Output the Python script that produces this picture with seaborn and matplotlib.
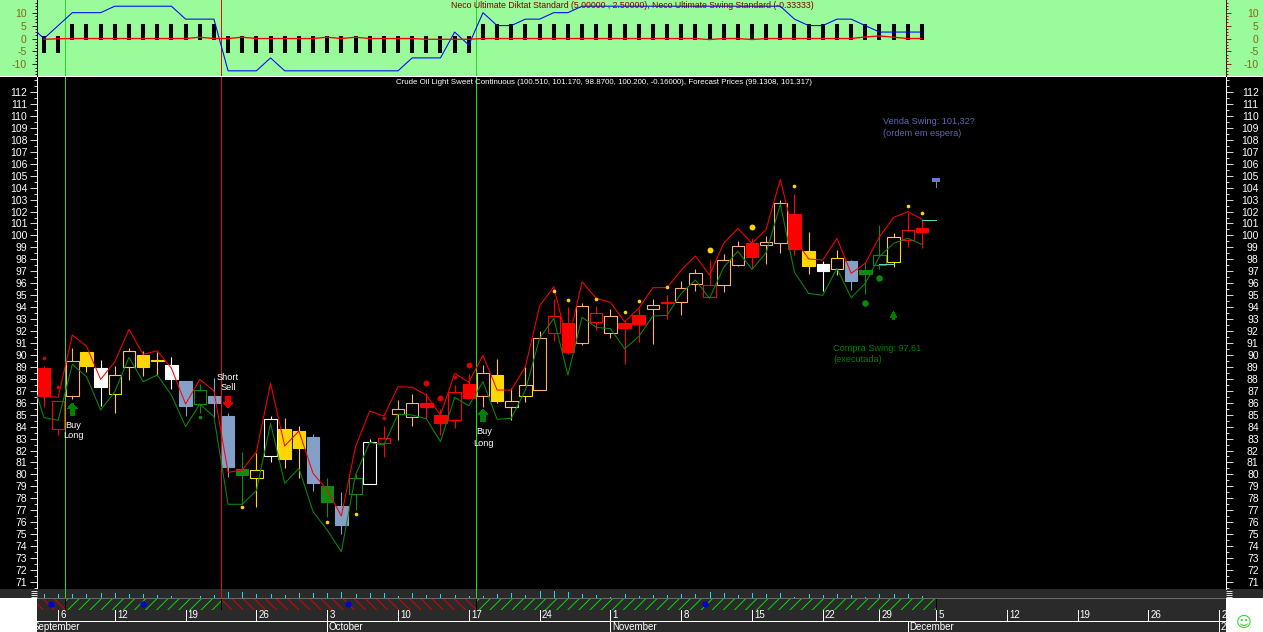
import numpy as np
import pandas as pd
import matplotlib
matplotlib.use('Agg')
import matplotlib.pyplot as plt
from matplotlib.patches import Rectangle
from matplotlib.ticker import MultipleLocator
import seaborn as sns

# candle data, one entry per session
opens_top = [88.93, 86.14, 89.46, 90.24, 88.90, 88.29, 90.30, 90.00, 89.55, 89.15, 87.82, 87.04, 86.56,
             84.89, 80.45, 80.34, 84.61, 83.80, 83.63, 83.13, 79.03, 77.36, 79.72, 82.68, 83.02, 85.44,
             85.95, 85.97, 84.97, 86.87, 87.56, 88.46, 88.32, 86.12, 87.45, 91.39, 93.23, 92.67, 94.10,
             93.48, 93.23, 92.67, 93.34, 94.15, 94.43, 95.63, 96.88, 95.82, 97.94, 99.09, 99.34, 99.42,
             102.69, 101.79, 98.69, 97.61, 98.08, 97.86, 97.10, 98.33, 99.84, 100.43, 100.59]
body_low = [86.56, 83.77, 86.56, 89.07, 87.31, 86.75, 89.02, 89.02, 89.45, 87.98, 85.72, 85.92, 86.00,
            80.65, 79.95, 79.72, 81.57, 81.29, 82.24, 79.28, 77.69, 75.77, 78.39, 79.22, 82.65, 85.03,
            84.83, 85.64, 84.30, 84.58, 86.42, 86.59, 86.14, 85.67, 86.59, 87.09, 91.81, 90.27, 91.02,
            92.78, 91.81, 92.28, 92.59, 93.87, 94.32, 94.45, 95.91, 94.82, 95.88, 97.55, 98.19, 99.17,
            99.39, 98.86, 97.44, 97.02, 97.21, 96.18, 96.77, 97.55, 97.80, 99.59, 100.31]
highs = [89.07, 86.14, 90.55, 90.24, 89.57, 89.07, 90.55, 90.33, 90.27, 89.82, 87.82, 87.56, 88.04,
         85.16, 81.87, 81.76, 84.89, 84.70, 84.05, 83.41, 79.70, 78.53, 80.03, 82.96, 84.05, 86.23,
         86.73, 86.79, 85.44, 87.48, 88.38, 89.15, 89.66, 87.20, 89.02, 92.00, 94.65, 94.03, 94.37,
         94.12, 93.82, 92.92, 93.90, 94.65, 95.01, 96.18, 97.19, 97.94, 98.44, 99.53, 99.76, 99.95,
         102.96, 103.46, 100.28, 97.86, 98.78, 97.94, 97.75, 100.87, 100.18, 101.85, 101.35]
lows = [85.64, 83.30, 86.31, 88.57, 85.72, 85.16, 87.90, 88.23, 88.32, 87.15, 84.89, 85.14, 84.83,
        79.81, 77.50, 77.30, 81.07, 80.54, 79.72, 78.64, 76.46, 75.01, 77.02, 79.22, 81.48, 82.88,
        84.05, 84.61, 83.30, 83.91, 86.42, 85.67, 85.95, 84.55, 86.06, 87.09, 91.16, 90.08, 90.83,
        92.08, 91.39, 89.24, 91.10, 90.91, 93.00, 93.34, 95.37, 94.82, 95.29, 97.44, 97.25, 97.61,
        98.55, 98.36, 96.77, 95.35, 96.69, 95.43, 95.10, 97.19, 97.38, 99.03, 98.95]
kinds = list('RroYWyyYyWBgBBGywYYBGBgwrooRRrRoYyyorRoroRRoRoorooRooRYWyBGgyrR')

upper_band = [86.56, 86.45, 91.67, 90.74, 87.95, 89.43, 92.14, 90.05, 90.35, 88.88, 85.89, 87.95, 87.00,
              80.17, 80.37, 81.90, 87.62, 82.38, 83.63, 80.09, 78.69, 76.52, 82.32, 85.31, 84.89, 87.34,
              87.29, 86.64, 84.97, 88.46, 87.71, 89.96, 87.06, 87.06, 89.02, 94.10, 95.71, 90.90, 96.13,
              94.73, 94.40, 92.78, 93.90, 95.63, 95.63, 97.10, 98.28, 96.69, 99.34, 100.59, 99.34, 100.51,
              104.69, 99.76, 98.03, 97.94, 99.76, 96.83, 97.66, 99.89, 101.51, 101.99, 101.37]
lower_band = [88.50, 84.75, 84.53, 89.21, 88.18, 85.39, 86.92, 89.80, 87.76, 88.32, 86.64, 84.00, 85.89, 84.83,
              77.50, 77.50, 78.64, 84.27, 79.25, 80.51, 76.88, 75.35, 73.53, 79.95, 82.68, 82.46, 85.03,
              84.97, 84.66, 82.74, 86.45, 85.75, 87.76, 84.61, 84.69, 87.06, 91.39, 93.06, 88.32, 93.15,
              92.31, 92.20, 90.52, 91.53, 93.26, 93.31, 95.15, 96.27, 94.73, 97.33, 98.67, 97.16, 98.55,
              102.60, 96.91, 95.15, 94.99, 97.25, 94.79, 95.99, 98.22, 99.34, 99.76, 99.25]

# dots above and below the candles
gold_idx = [14, 20, 22, 36, 37, 39, 41, 42, 44, 53, 61, 62]
gold_price = [77.25, 76.00, 76.66, 95.32, 94.57, 94.65, 93.56, 94.48, 95.65, 104.11, 102.43, 101.85]
gold_big_idx = [47, 50]
gold_big_price = [98.80, 100.67]
red_idx = [0, 1, 24, 29]
red_price = [89.71, 87.29, 84.69, 88.12]
red_big_idx = [27, 28, 30]
red_big_price = [87.62, 86.36, 89.13]
green_idx = [11]
green_price = [84.78]
green_big_idx = [58, 59]
green_big_price = [94.32, 96.41]

# oscillator panel
diktat = [-5.5, -5.5] + [5.5] * 11 + [-5.5] * 18 + [5.5] * 32
swing = [5, 0, 5, 10, 10, 10, 12.5, 12.5, 12.5, 12.5, 12.5, 7.5, 7.5, 7.5, -12.5, -12.5, -12.5, -7.5,
         -12.5, -12.5, -12.5, -12.5, -12.5, -12.5, -12.5, -12.5, -12.5, -7.5, -7.5, -7.5, 2.5, -2.5, 10,
         5, 5, 7.5, 7.5, 10, 10, 12.5, 12.5, 12.5, 12.5, 12.5, 12.5, 12.5, 12.5, 12.5, 12.5, 12.5, 12.5,
         12.5, 12.5, 12.5, 7.5, 5, 5, 7.5, 7.5, 5, 2.5, 2.5, 2.5, 2.5]
diktat_line = [-0.3, -0.1, 0, 0, 0, 0, 0, 0, 0, 0, 0, 0.5, 0, 0, 0.5, 0, 0, 0, 0, 0, 0.5, 0, 0.5, 0, 0, 0,
               0, -0.3, -0.3, -0.3, -0.3, 0, 0, 0, 0, 0, 0, 0, 0, 0, 0, 0, 0, 0, 0, 0, 0, -0.4, 0, 0, -0.4,
               0, 0, 0, 0, 0, 0, 0, 0.6, 1.0, 0.5, 0, 0]
volume = [4, 4, 4, 4, 4.7, 4.7, 4, 4, 3, 1.7, 0, 1.7, 3, 6, 6, 4, 4, 3, 4.7, 4.7, 4.7, 6, 4, 4.7, 4.7, 1.7,
          4.7, 3, 4, 3, 1.7, 2, 4, 5, 3, 7, 7, 6, 4, 3, 1, 4, 2, 3, 3, 4, 4, 6, 5, 3, 5, 4, 5, 1, 4, 3, 4,
          3, 1, 4, 4, 4, 2]

signal_idx = [1.5, 12.5, 30.5]
signal_color = ['#2fd62f', '#e01010', '#2fd62f']
regime_edges = [-0.5, 1.5, 12.5, 30.5, 63]
regime_color = ['#e00000', '#00e000', '#e00000', '#00e000']
event_idx = [0.5, 7, 21.5, 46.7]

date_idx = [1, 5, 10, 15, 20, 25, 30, 35, 40, 45, 50, 55, 59, 63, 68, 73, 78, 83]
date_labels = ['6', '12', '19', '26', '3', '10', '17', '24', '1', '8', '15', '22', '29', '5', '12', '19', '26', '2']
month_idx = [-0.9, 20, 40, 61, 83]
month_labels = ['September', 'October', 'November', 'December', '2']
month_ticks = [20, 40, 61, 83]

PX_W, PX_H = 1263, 632
X0, X1 = 37, 1226
BAR0, BAR_STEP = 44, 14.16
THIN = 0.6

sns.set_style('white')
plt.rcParams['font.family'] = ['Liberation Sans', 'DejaVu Sans']
plt.rcParams['axes.unicode_minus'] = False
plt.rcParams['lines.antialiased'] = False
plt.rcParams['patch.antialiased'] = False
plt.rcParams['hatch.linewidth'] = 0.7

fig = plt.figure(figsize=(PX_W / 100, PX_H / 100), dpi=100, facecolor='white')


def band(top, bottom, color):
    fig.patches.append(Rectangle((0, 1 - bottom / PX_H), 1, (bottom - top) / PX_H, zorder=-5,
                                 transform=fig.transFigure, facecolor=color, edgecolor='none'))


def panel(top, bottom, color):
    ax = fig.add_axes([X0 / PX_W, 1 - bottom / PX_H, (X1 - X0) / PX_W, (bottom - top) / PX_H], facecolor=color)
    ax.set_xlim((X0 - BAR0) / BAR_STEP, (X1 - BAR0) / BAR_STEP)
    ax.set_xticks([])
    ax.set_yticks([])
    for s in ax.spines.values():
        s.set_visible(False)
    return ax


def side_axis(ax, ticks, minor, left_col, right_col, label_col, left_pad, right_pad, tick_len):
    ax.set_yticks(ticks)
    ax.yaxis.set_minor_locator(MultipleLocator(minor))
    ax.tick_params(which='major', left=True, color=left_col, length=tick_len, width=THIN,
                   labelsize=7.5, labelcolor=label_col, pad=left_pad)
    ax.tick_params(which='minor', left=True, color=left_col, length=tick_len / 2, width=THIN)
    ax.spines['left'].set_visible(True)
    ax.spines['left'].set_color(left_col)
    ax.spines['left'].set_linewidth(THIN)
    right = ax.secondary_yaxis('right')
    right.set_yticks(ticks)
    right.yaxis.set_minor_locator(MultipleLocator(minor))
    right.tick_params(which='major', color=right_col, length=tick_len, width=THIN,
                      labelsize=7.5, labelcolor=label_col, pad=right_pad)
    right.tick_params(which='minor', color=right_col, length=tick_len / 2, width=THIN)
    right.spines['right'].set_color(right_col)
    right.spines['right'].set_linewidth(THIN)
    plt.setp(right.get_yticklabels(), ha='right')


band(0, 76, '#99fb99')
band(77, 589, 'black')
band(589, 598, '#2a2a2a')

ax_osc = panel(0, 76, '#99fb99')
ax_price = panel(77, 589, 'black')
ax_vol = panel(589, 598, '#2a2a2a')
ax_sig = panel(598, 610, '#2a2a2a')
ax_date = panel(610, 621, '#2a2a2a')
ax_month = panel(621, 632, '#2a2a2a')

# oscillator panel
idx = np.arange(len(opens_top))
ax_osc.set_ylim(-14.5, 14.9)
ax_osc.vlines(idx, [-0.6 if d > 0 else 1 for d in diktat], diktat, color='black', lw=2.9, antialiased=True, zorder=2)
sns.lineplot(x=np.arange(-1, len(swing) - 1), y=swing, ax=ax_osc, color='#0000ff', lw=0.75, antialiased=True,
             estimator=None, zorder=3)
sns.lineplot(x=idx, y=diktat_line, ax=ax_osc, color='#ff0000', lw=0.95, antialiased=True, estimator=None, zorder=4)
side_axis(ax_osc, [-10, -5, 0, 5, 10], 1.25, 'black', '#800000', '#7f6a10', 4, 20, 3.5)
ax_osc.text(632 / PX_W, 1 - 6 / PX_H, 'Neco Ultimate Diktat Standard (5.00000 , 2.50000), Neco Ultimate Swing Standard (-0.33333)',
            transform=fig.transFigure, ha='center', va='center', color='#800000', fontsize=6.3, zorder=6)

# price panel
ax_price.set_ylim(70.41, 113.26)
side_axis(ax_price, np.arange(71, 113), 0.5, 'white', 'white', 'white', 2, 18.5, 5)

for x, c in zip(signal_idx, signal_color):
    ax_price.axvline(x, color=c, lw=THIN, zorder=1)
    ax_osc.axvline(x, color=c, lw=THIN, zorder=1)
    ax_vol.axvline(x, color=c, lw=THIN, zorder=1)

palette = {'r': '#ff0000', 'o': '#ffb070', 'y': '#ffd700', 'w': '#ffffff', 'g': '#108a10', 'b': '#84a0c8'}
fills = {'R': 'r', 'Y': 'y', 'W': 'w', 'B': 'b', 'G': 'g'}
for i, k in enumerate(kinds):
    hollow = k.islower()
    col = palette[k if hollow else fills[k]]
    ax_price.vlines(i, lows[i], highs[i], color=col, lw=0.8, antialiased=True, zorder=2)
    ax_price.bar(i, opens_top[i] - body_low[i], bottom=body_low[i], width=0.88, antialiased=True,
                 facecolor='black' if hollow else col, edgecolor=col, lw=0.8, zorder=3)

sns.lineplot(x=idx, y=upper_band, ax=ax_price, color='#ff0000', lw=0.75, antialiased=True, estimator=None, zorder=5)
sns.lineplot(x=np.arange(-1, len(lower_band) - 1), y=lower_band, ax=ax_price, color='#0a8a0a', lw=0.75, antialiased=True,
             estimator=None, zorder=5)

for xs, ys, c, s in [(gold_idx, gold_price, '#ffd700', 7), (gold_big_idx, gold_big_price, '#ffd700', 18),
                     (red_idx, red_price, '#e00000', 7), (red_big_idx, red_big_price, '#e00000', 18),
                     (green_idx, green_price, '#0a8a0a', 7), (green_big_idx, green_big_price, '#0a8a0a', 22)]:
    sns.scatterplot(x=xs, y=ys, ax=ax_price, color=c, s=s, linewidth=0, zorder=6)

# entry and exit arrows
for x, y0, y1, c, w, hw in [(2, 84.97, 85.97, '#008000', 3, 7), (13, 86.56, 85.56, '#e00000', 3, 7),
                            (31, 84.40, 85.47, '#008000', 3, 7), (60, 93.00, 93.60, '#008000', 1.5, 4.5)]:
    ax_price.annotate('', xy=(x, y1), xytext=(x, y0), zorder=7,
                      arrowprops=dict(facecolor=c, edgecolor=c, width=w, headwidth=hw, headlength=4, shrink=0, lw=0))

# forecast marks
ax_price.hlines([97.61, 101.32], [59, 62], [60, 63], color='#55d8d0', lw=THIN, zorder=6)
ax_price.vlines(63, 104.05, 104.8, color='#7080d0', lw=THIN, zorder=6)
ax_price.bar(63, 0.35, bottom=104.45, width=0.55, facecolor='#6a78c8', edgecolor='#6a78c8', lw=0, zorder=6)

txt_kw = dict(fontsize=6.6, va='center')
fig.text(604.5 / PX_W, 1 - 82 / PX_H,
         'Crude Oil Light Sweet Continuous (100.510, 101.170, 98.8700, 100.200, -0.16000), Forecast Prices (99.1308, 101.317)',
         color='white', ha='center', fontsize=5.65, va='center')
for x, y, s, c, ha in [(73, 425, 'Buy', 'white', 'center'), (73, 436, 'Long', 'white', 'center'),
                       (228, 378, 'Short', 'white', 'center'), (228, 388, 'Sell', 'white', 'center'),
                       (484, 432, 'Buy', 'white', 'center'), (484, 443, 'Long', 'white', 'center'),
                       (833, 349, 'Compra Swing: 97,61', '#008000', 'left'), (833, 360, '(executada)', '#008000', 'left'),
                       (883, 122, 'Venda Swing: 101,32?', '#5a66b8', 'left'), (883, 133, '(ordem em espera)', '#5a66b8', 'left')]:
    fig.text(x / PX_W, 1 - y / PX_H, s, color=c, ha=ha, **txt_kw)

# volume ticks strip
ax_vol.set_ylim(0, 9)
ax_vol.vlines(idx, 0, volume, color='#10e0f0', lw=THIN)
ax_vol.set_yticks([1, 3, 5, 7])
ax_vol.tick_params(left=True, right=True, labelleft=False, labelright=False, color='white', length=4, width=THIN)

# swing regime strip
ax_sig.set_ylim(0, 1)
for a, b, c in zip(regime_edges[:-1], regime_edges[1:], regime_color):
    ax_sig.axvspan(a, b, facecolor='#2a2a2a', edgecolor=c, hatch='///' if c == '#00e000' else '\\\\\\', lw=0)
ax_sig.axhline(1, color='#6a6a6a', lw=THIN, zorder=4)
ax_sig.vlines(regime_edges[1:], 0, 1, color='black', lw=THIN, zorder=3)
sns.scatterplot(x=event_idx, y=[0.5] * len(event_idx), ax=ax_sig, color='#0000d0', s=20, linewidth=0, zorder=5)

# date rows
ax_date.set_ylim(0, 1)
ax_date.vlines(date_idx, 0, 1, color='white', lw=THIN)
for x, s in zip(date_idx, date_labels):
    ax_date.annotate(s, (x, 0.5), xytext=(1.5, 0), textcoords='offset points', color='white', fontsize=7, va='center')
ax_month.set_ylim(0, 1)
ax_month.axhline(1, color='white', lw=THIN)
ax_month.vlines(month_ticks, 0, 1, color='white', lw=THIN)
for x, s in zip(month_idx, month_labels):
    ax_month.text(x + 0.1, 0.45, s, color='white', fontsize=7, va='center', clip_on=True)

fig.text(1244 / PX_W, 1 - 622 / PX_H, '\u263a', color='#20d820', fontsize=11, ha='center', va='center',
         family='DejaVu Sans')

fig.savefig('out.png', dpi=100, facecolor='white')
